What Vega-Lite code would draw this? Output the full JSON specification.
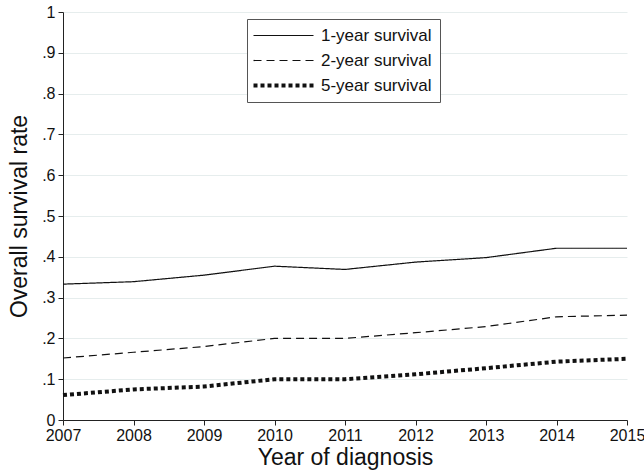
{
  "$schema": "https://vega.github.io/schema/vega-lite/v6.json",
  "autosize": "none",
  "width": 564,
  "height": 408,
  "padding": {"left": 63, "top": 12, "right": 17, "bottom": 54},
  "background": "white",
  "config": {
    "font": "Liberation Sans",
    "view": {"stroke": null},
    "axis": {"labelFont": "Liberation Sans", "titleFont": "Liberation Sans", "titleFontWeight": "normal", "labelColor": "#111", "titleColor": "#111", "domainColor": "#222", "tickColor": "#222"}
  },
  "data": {
    "values": [
      {"year": 2007, "series": "1-year survival", "rate": 0.333},
      {"year": 2008, "series": "1-year survival", "rate": 0.339},
      {"year": 2009, "series": "1-year survival", "rate": 0.355},
      {"year": 2010, "series": "1-year survival", "rate": 0.377},
      {"year": 2011, "series": "1-year survival", "rate": 0.369},
      {"year": 2012, "series": "1-year survival", "rate": 0.387},
      {"year": 2013, "series": "1-year survival", "rate": 0.398},
      {"year": 2014, "series": "1-year survival", "rate": 0.421},
      {"year": 2015, "series": "1-year survival", "rate": 0.421},
      {"year": 2007, "series": "2-year survival", "rate": 0.152},
      {"year": 2008, "series": "2-year survival", "rate": 0.166},
      {"year": 2009, "series": "2-year survival", "rate": 0.180},
      {"year": 2010, "series": "2-year survival", "rate": 0.200},
      {"year": 2011, "series": "2-year survival", "rate": 0.200},
      {"year": 2012, "series": "2-year survival", "rate": 0.214},
      {"year": 2013, "series": "2-year survival", "rate": 0.229},
      {"year": 2014, "series": "2-year survival", "rate": 0.253},
      {"year": 2015, "series": "2-year survival", "rate": 0.257},
      {"year": 2007, "series": "5-year survival", "rate": 0.061},
      {"year": 2008, "series": "5-year survival", "rate": 0.075},
      {"year": 2009, "series": "5-year survival", "rate": 0.082},
      {"year": 2010, "series": "5-year survival", "rate": 0.100},
      {"year": 2011, "series": "5-year survival", "rate": 0.100},
      {"year": 2012, "series": "5-year survival", "rate": 0.112},
      {"year": 2013, "series": "5-year survival", "rate": 0.127},
      {"year": 2014, "series": "5-year survival", "rate": 0.143},
      {"year": 2015, "series": "5-year survival", "rate": 0.150}
    ]
  },
  "mark": {"type": "line", "color": "#111", "strokeCap": "butt"},
  "encoding": {
    "x": {
      "field": "year", "type": "quantitative",
      "scale": {"domain": [2007, 2015], "nice": false, "zero": false},
      "axis": {"values": [2007, 2008, 2009, 2010, 2011, 2012, 2013, 2014, 2015], "format": "d", "grid": false, "labelFontSize": 16, "labelFlush": false, "labelOverlap": false, "tickSize": 5, "labelPadding": 2, "title": "Year of diagnosis", "titleFontSize": 23, "titlePadding": 3}
    },
    "y": {
      "field": "rate", "type": "quantitative",
      "scale": {"domain": [0, 1], "nice": false},
      "axis": {"values": [0, 0.1, 0.2, 0.3, 0.4, 0.5, 0.6, 0.7, 0.8, 0.9, 1], "labelExpr": "datum.value == 0 ? '0' : datum.value == 1 ? '1' : replace(format(datum.value, '.1f'), '0.', '.')", "grid": true, "gridColor": "#e6eded", "gridWidth": 1, "labelFontSize": 16, "tickSize": 5, "labelPadding": 3, "title": "Overall survival rate", "titleFontSize": 23, "titlePadding": 10}
    },
    "strokeWidth": {
      "condition": {"test": "datum.series == '5-year survival'", "value": 4},
      "value": 1.2
    },
    "strokeDash": {
      "field": "series", "type": "nominal",
      "scale": {"domain": ["1-year survival", "2-year survival", "5-year survival"], "range": [[1, 0], [8, 5], [4, 3]]},
      "legend": {
        "title": null, "orient": "none", "legendX": 184, "legendY": 7,
        "symbolType": "M-1,0H5", "symbolSize": 400, "symbolStrokeColor": "#111", "symbolFillColor": "transparent",
        "labelFontSize": 17, "labelColor": "#111", "labelOffset": 49, "rowPadding": 7,
        "labelExpr": "datum.label + '  '",
        "strokeColor": "#555", "fillColor": "white", "padding": 8,
        "encode": {"symbols": {"update": {"strokeWidth": {"signal": "datum.label == '5-year survival' ? 4 : 1.2"}}}}
      }
    }
  }
}
